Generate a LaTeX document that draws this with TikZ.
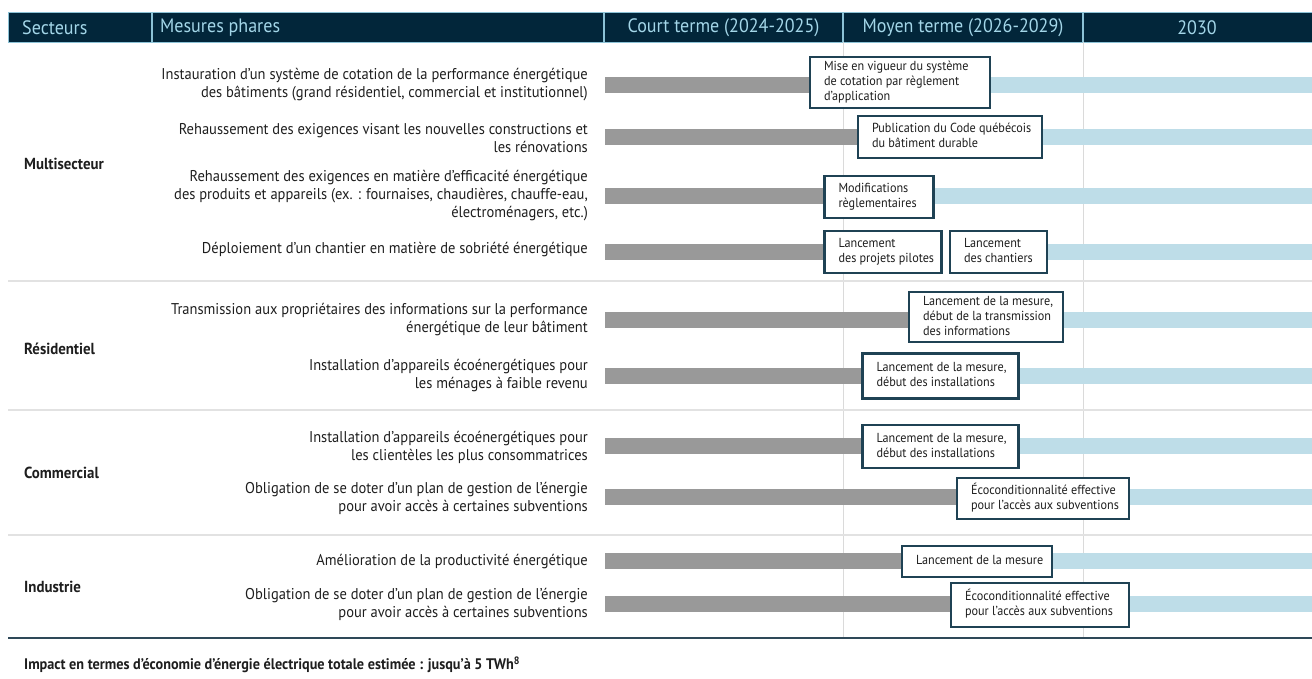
\documentclass[tikz,border=0pt]{standalone}
\usepackage{fontspec}
\setmainfont{PT Sans}[FakeStretch=0.93]
\definecolor{navy}{HTML}{02263A}
\definecolor{hdrtxt}{HTML}{A3D6E8}
\definecolor{hdrline}{HTML}{8CC2D6}
\definecolor{greybar}{HTML}{999999}
\definecolor{bluebar}{HTML}{BEDDE8}
\definecolor{boxc}{HTML}{1F4254}
\definecolor{sepc}{HTML}{E2E2E2}
\definecolor{gridc}{HTML}{DADADA}
\definecolor{botc}{HTML}{2E4858}
\definecolor{txt}{HTML}{1E1E1E}
\newcommand{\bx}[6]{%
  \node[boxst, minimum width=#4, minimum height=#5] (#1) at (#2,#3)
  {\makebox[\dimexpr#4pt-28pt\relax][l]{\begin{tabular}{@{}l@{}}#6\end{tabular}}};}
\newcommand{\bars}[3]{% y, grey end, blue start
  \fill[greybar] (605,#1-8) rectangle (#2,#1+8);
  \fill[bluebar] (#3,#1-8) rectangle (1312,#1+8);}
\begin{document}
\begin{tikzpicture}[x=1pt,y=-1pt,
  hdr/.style={text=hdrtxt, font=\fontsize{19.4}{21}\selectfont, inner sep=0},
  meas/.style={anchor=east, align=right, text=txt, inner sep=0, font=\fontsize{15.6}{18}\selectfont},
  sect/.style={anchor=west, text=txt, inner sep=0, font=\bfseries\fontsize{16}{18}\selectfont},
  boxst/.style={draw=boxc, line width=2.6pt, fill=white, text=txt, inner xsep=14pt, inner ysep=0pt, font=\fontsize{13.1}{15}\selectfont}]
\useasboundingbox (0,0) rectangle (1312,679);
% header
\fill[navy] (8,12) rectangle (1312,42);
\draw[hdrline, line width=0.8pt] (8,12) rectangle (1312,42);
\foreach \xx in {152,604,843,1083} \draw[hdrline, line width=1.2pt] (\xx,12) -- (\xx,42);
\node[hdr, anchor=west] (h1) at (22,27.5) {Secteurs};
\node[hdr, anchor=west] (h2) at (160,27.5) {Mesures phares};
\node[hdr] (h3) at (723.5,27.5) {Court terme (2024-2025)};
\node[hdr] (h4) at (963,27.5) {Moyen terme (2026-2029)};
\node[hdr] (h5) at (1197,27.5) {2030};
% grid
\foreach \xx in {843,1083} \draw[gridc, line width=1pt] (\xx,42) -- (\xx,638);
\foreach \yy in {281,410,535} \draw[sepc, line width=2.5pt] (8,\yy) -- (1312,\yy);
\draw[botc, line width=2pt] (8,638) -- (1312,638);
% sectors
\node[sect] (s1) at (24,164) {Multisecteur};
\node[sect] (s2) at (24,349) {Résidentiel};
\node[sect] (s3) at (24,473) {Commercial};
\node[sect] (s4) at (24,587) {Industrie};
% measures
\node[meas] (m1) at (588,85) {Instauration d’un système de cotation de la performance énergétique\\des bâtiments (grand résidentiel, commercial et institutionnel)};
\node[meas] (m2) at (588,138) {Rehaussement des exigences visant les nouvelles constructions et\\les rénovations};
\node[meas] (m3) at (588,196) {Rehaussement des exigences en matière d’efficacité énergétique\\des produits et appareils (ex. : fournaises, chaudières, chauffe-eau,\\électroménagers, etc.)};
\node[meas] (m4) at (588,250) {Déploiement d’un chantier en matière de sobriété énergétique};
\node[meas] (m5) at (588,320) {Transmission aux propriétaires des informations sur la performance\\énergétique de leur bâtiment};
\node[meas] (m6) at (588,376) {Installation d’appareils écoénergétiques pour\\les ménages à faible revenu};
\node[meas] (m7) at (588,447) {Installation d’appareils écoénergétiques pour\\les clientèles les plus consommatrices};
\node[meas] (m8) at (588,498) {Obligation de se doter d’un plan de gestion de l’énergie\\pour avoir accès à certaines subventions};
\node[meas] (m9) at (588,562) {Amélioration de la productivité énergétique};
\node[meas] (m10) at (588,604) {Obligation de se doter d’un plan de gestion de l’énergie\\pour avoir accès à certaines subventions};
% bars
\bars{85}{850}{950}
\bars{137.5}{900}{1000}
\bars{196}{880}{880}
\bars{252}{880}{1000}
\bars{320}{985}{985}
\bars{376}{940}{940}
\bars{446}{940}{940}
\bars{497}{1040}{1040}
\bars{561}{978}{978}
\bars{604}{1040}{1040}
% boxes
\bx{b1}{900}{82.5}{180}{51}{Mise en vigueur du système\\de cotation par règlement\\d’application}
\bx{b2}{950}{137}{184}{42}{Publication du Code québécois\\du bâtiment durable}
\bx{b3}{879}{197}{109}{42}{Modifications\\règlementaires}
\bx{b4}{883}{252}{117}{42}{Lancement\\des projets pilotes}
\bx{b5}{998.5}{252}{97}{42}{Lancement\\des chantiers}
\bx{b6}{986}{317}{154}{50}{Lancement de la mesure,\\début de la transmission\\des informations}
\bx{b7}{940.5}{376}{156}{45}{Lancement de la mesure,\\début des installations}
\bx{b8}{940.5}{446.5}{156}{43}{Lancement de la mesure,\\début des installations}
\bx{b9}{1043}{498.5}{172}{41}{Écoconditionnalité effective\\pour l’accès aux subventions}
\bx{b10}{977}{561.5}{150}{31}{Lancement de la mesure}
\bx{b11}{1040}{605}{178}{44}{Écoconditionnalité effective\\pour l’accès aux subventions}
% footer
\node[anchor=west, inner sep=0, text=txt, font=\bfseries\fontsize{15.3}{17}\selectfont] (foot) at (24,665) {Impact en termes d’économie d’énergie électrique totale estimée : jusqu’à 5 TWh\textsuperscript{8}};
\end{tikzpicture}
\end{document}
